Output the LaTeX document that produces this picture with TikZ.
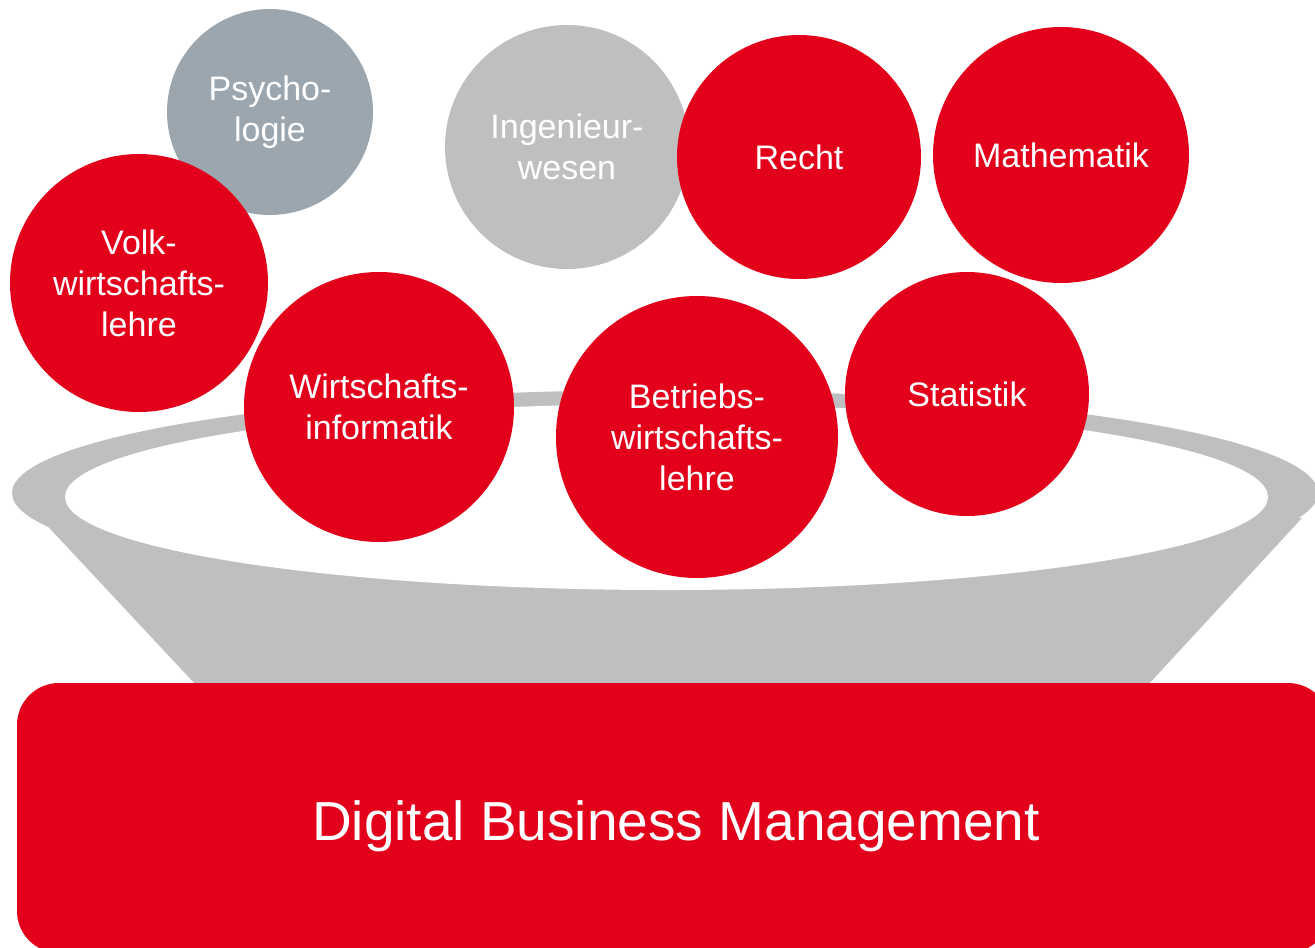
\documentclass[tikz,border=0pt]{standalone}
\usepackage{fontspec}
\setmainfont{Liberation Sans}
\definecolor{dbred}{HTML}{E2001A}
\definecolor{slategray}{HTML}{9BA6AE}
\definecolor{lightgray2}{HTML}{BFBFBF}
\begin{document}
\begin{tikzpicture}[x=1pt,y=-1pt,
  subject/.style={circle, inner sep=0pt, text=white, align=center,
    font=\fontsize{34}{41}\selectfont},
  redsubj/.style={subject, fill=dbred},
  funnelfill/.style={fill=lightgray2}]
\useasboundingbox (0,0) rectangle (1315,948);
% funnel
\fill[funnelfill] (665,493) ellipse [x radius=653pt, y radius=103pt];
\fill[funnelfill] (40,518) -- (197,686) -- (1147,686) -- (1302,518) -- cycle;
\fill[white] (666.5,497) ellipse [x radius=601.5pt, y radius=93pt];
% subjects
\node[subject, fill=slategray, minimum size=206pt] (psy) at (270,112) {Psycho-\\logie};
\node[redsubj, minimum size=258pt] (vwl) at (139,283) {Volk-\\wirtschafts-\\lehre};
\node[subject, fill=lightgray2, minimum size=244pt] (ing) at (567,147) {Ingenieur-\\wesen};
\node[redsubj, minimum size=244pt] (recht) at (799,157) {Recht};
\node[redsubj, minimum size=256pt] (mathe) at (1061,155) {Mathematik};
\node[redsubj, minimum size=270pt] (wi) at (379,407) {Wirtschafts-\\informatik};
\node[redsubj, minimum size=282pt] (bwl) at (697,437) {Betriebs-\\wirtschafts-\\lehre};
\node[redsubj, minimum size=244pt] (stat) at (967,394) {Statistik};
% base box
\node[fill=dbred, rounded corners=42pt, minimum width=1313pt, minimum height=270pt, inner sep=0pt] (box) at (673.5,818) {};
\node[text=white, anchor=base, font=\fontsize{55}{66}\selectfont] (dbm) at (676,840) {Digital Business Management};
\end{tikzpicture}
\end{document}
